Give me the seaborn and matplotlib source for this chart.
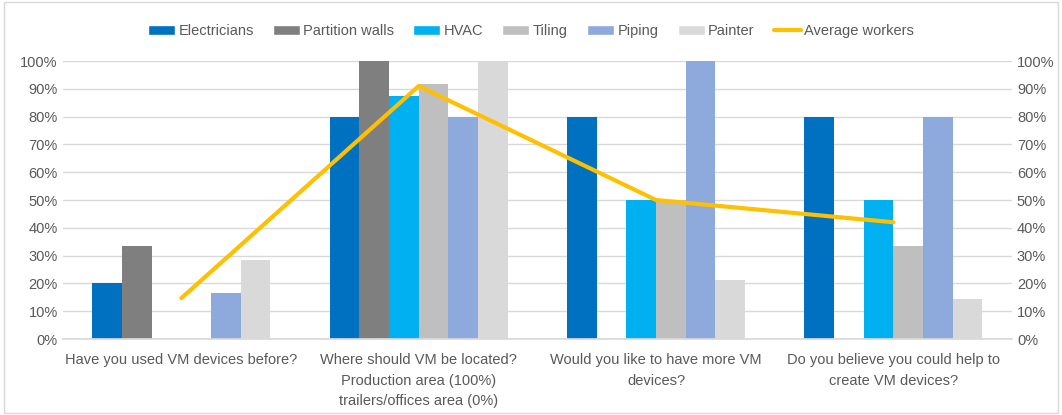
import matplotlib
matplotlib.use("Agg")
import matplotlib.pyplot as plt
import numpy as np
import pandas as pd
import seaborn as sns
from matplotlib.lines import Line2D
from matplotlib.patches import Patch, Rectangle
from matplotlib.ticker import PercentFormatter

# Survey questions on the x axis
categories = [
    "Have you used VM devices before?",
    "Where should VM be located?\nProduction area (100%)\ntrailers/offices area (0%)",
    "Would you like to have more VM\ndevices?",
    "Do you believe you could help to\ncreate VM devices?",
]

# Share of "yes" per trade, in percent
electricians = [20.0, 80.0, 80.0, 80.0]
partition_walls = [33.3, 100.0, 0.0, 0.0]
hvac = [0.0, 87.5, 50.0, 50.0]
tiling = [0.0, 91.7, 50.0, 33.3]
piping = [16.7, 80.0, 100.0, 80.0]
painter = [28.6, 100.0, 21.4, 14.3]
average_workers = [14.7, 91.0, 50.0, 42.0]

trades = ["Electricians", "Partition walls", "HVAC", "Tiling", "Piping", "Painter"]
colors = ["#0070C0", "#7F7F7F", "#00B0F0", "#BFBFBF", "#8EA9DB", "#D9D9D9"]
line_color = "#FFC000"
text_color = "#595959"

series = [electricians, partition_walls, hvac, tiling, piping, painter]
df = pd.DataFrame(
    [(c, t, v) for t, vals in zip(trades, series) for c, v in zip(categories, vals)],
    columns=["question", "trade", "value"],
)

sns.set_theme(style="white")
plt.rcParams["font.family"] = ["Liberation Sans", "DejaVu Sans"]

fig = plt.figure(figsize=(10.62, 4.15), dpi=100)
ax = fig.add_axes([0.059, 0.183, 0.894, 0.67])

sns.barplot(
    data=df, x="question", y="value", hue="trade",
    order=categories, hue_order=trades, palette=colors,
    width=0.75, saturation=1, legend=False, linewidth=0, ax=ax,
)

ax.set_ylim(0, 100)
ax.set_xlim(-0.5, len(categories) - 0.5)
ax.set_yticks(np.arange(0, 101, 10))
ax.yaxis.set_major_formatter(PercentFormatter(decimals=0))
ax.grid(axis="y", color="#D9D9D9", linewidth=1)
ax.set_axisbelow(True)
for side in ["top", "right", "left"]:
    ax.spines[side].set_visible(False)
ax.spines["bottom"].set_color("#D9D9D9")
ax.set_xlabel("")
ax.set_ylabel("")
ax.tick_params(axis="both", length=0, colors=text_color, labelsize=10.5)
ax.tick_params(axis="x", pad=10)
for lbl in ax.get_xticklabels():
    lbl.set_linespacing(1.6)

# secondary axis for the average line (same 0-100% scale)
ax2 = ax.twinx()
sns.lineplot(x=np.arange(len(categories)), y=average_workers, color=line_color,
             linewidth=3, ax=ax2)
ax2.set_ylim(0, 100)
ax2.set_yticks(np.arange(0, 101, 10))
ax2.yaxis.set_major_formatter(PercentFormatter(decimals=0))
for side in ["top", "right", "left", "bottom"]:
    ax2.spines[side].set_visible(False)
ax2.tick_params(axis="y", length=0, colors=text_color, labelsize=10.5)
ax2.set_xlim(-0.5, len(categories) - 0.5)

handles = [Patch(facecolor=c, label=t) for t, c in zip(trades, colors)]
handles.append(Line2D([0], [0], color=line_color, linewidth=3, label="Average workers"))
fig.legend(handles=handles, loc="center", bbox_to_anchor=(0.5, 0.925), ncol=7,
           frameon=False, fontsize=10.5, labelcolor=text_color,
           handlelength=1.85, handleheight=0.75, columnspacing=1.3, handletextpad=0.25)

# light frame around the whole chart
fig.patches.append(Rectangle((0.004, 0.004), 0.992, 0.99, transform=fig.transFigure,
                             fill=False, edgecolor="#D9D9D9", linewidth=1))

fig.savefig("out.png", dpi=100)
